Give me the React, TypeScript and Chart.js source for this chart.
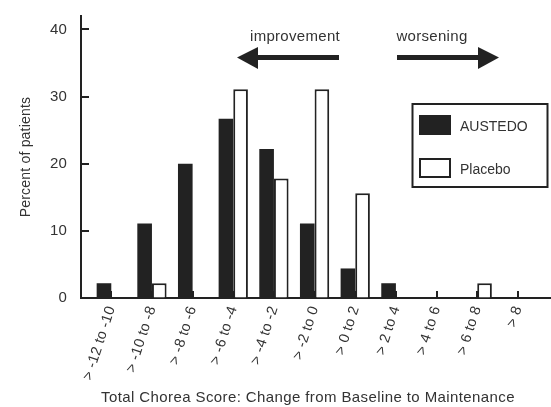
import React, { useEffect, useRef } from 'react';
import { Chart, registerables } from 'chart.js';

Chart.register(...registerables);

const CATEGORIES = [
  '> -12 to -10',
  '> -10 to -8',
  '> -8 to -6',
  '> -6 to -4',
  '> -4 to -2',
  '> -2 to 0',
  '> 0 to 2',
  '> 2 to 4',
  '> 4 to 6',
  '> 6 to 8',
  '> 8',
];
const AUSTEDO = [2.2, 11.1, 20.0, 26.7, 22.2, 11.1, 4.4, 2.2, 0, 0, 0];
const PLACEBO = [0, 2.2, 0, 31.1, 17.8, 31.1, 15.6, 0, 0, 2.2, 0];
const Y_TICKS = [0, 10, 20, 30, 40];
const SERIES_NAMES = ['AUSTEDO', 'Placebo'];

const FAMILY = "'Liberation Sans', Arial, sans-serif";
const INK = '#222222';
const TEXT = '#333333';
const SPACING = '0.2px';

const spacingPlugin = {
  id: 'spacing',
  beforeUpdate(chart: any) {
    chart.ctx.letterSpacing = SPACING;
  },
  beforeLayout(chart: any) {
    chart.ctx.letterSpacing = SPACING;
  },
  beforeDraw(chart: any) {
    chart.ctx.letterSpacing = SPACING;
  },
};

const innerTicksPlugin = {
  id: 'innerTicks',
  beforeDatasetsDraw(chart: any) {
    const { ctx, chartArea, scales } = chart;
    const x = scales.x;
    const y = scales.y;
    ctx.save();
    ctx.strokeStyle = INK;
    ctx.lineWidth = 2;
    y.ticks.forEach((_t: any, i: number) => {
      const py = Math.round(y.getPixelForTick(i));
      ctx.beginPath();
      ctx.moveTo(chartArea.left, py);
      ctx.lineTo(chartArea.left + 8, py);
      ctx.stroke();
    });
    x.ticks.forEach((_t: any, i: number) => {
      const px = Math.round(x.getPixelForTick(i));
      ctx.beginPath();
      ctx.moveTo(px, chartArea.bottom);
      ctx.lineTo(px, chartArea.bottom - 7);
      ctx.stroke();
    });
    ctx.restore();
  },
};

const decorPlugin = {
  id: 'decor',
  afterDraw(chart: any) {
    const { ctx } = chart;
    const ds = chart.data.datasets;
    ctx.save();
    ctx.fillStyle = TEXT;
    ctx.textBaseline = 'middle';
    ctx.textAlign = 'center';

    // x-axis title
    ctx.letterSpacing = '0.4px';
    ctx.font = `15px ${FAMILY}`;
    ctx.fillText('Total Chorea Score: Change from Baseline to Maintenance', 308, 398);

    // direction annotations
    ctx.letterSpacing = '0.3px';
    ctx.fillText('improvement', 295, 37);
    ctx.fillText('worsening', 432, 37);

    ctx.fillStyle = INK;
    // left arrow
    ctx.fillRect(256, 55, 83, 5);
    ctx.beginPath();
    ctx.moveTo(237, 57.5);
    ctx.lineTo(258, 47);
    ctx.lineTo(258, 69);
    ctx.closePath();
    ctx.fill();
    // right arrow
    ctx.fillRect(397, 55, 83, 5);
    ctx.beginPath();
    ctx.moveTo(499, 57.5);
    ctx.lineTo(478, 47);
    ctx.lineTo(478, 69);
    ctx.closePath();
    ctx.fill();

    // legend box
    ctx.strokeStyle = INK;
    ctx.lineWidth = 2;
    ctx.strokeRect(412.5, 104, 135, 83);
    ctx.fillStyle = ds[0].backgroundColor;
    ctx.fillRect(419, 115, 32, 20);
    ctx.fillStyle = ds[1].backgroundColor;
    ctx.fillRect(420, 159, 30, 18);
    ctx.strokeStyle = ds[1].borderColor;
    ctx.strokeRect(420, 159, 30, 18);
    ctx.fillStyle = TEXT;
    ctx.textAlign = 'left';
    ctx.letterSpacing = '0px';
    ctx.font = `14px ${FAMILY}`;
    ctx.fillText(ds[0].label, 460, 127);
    ctx.fillText(ds[1].label, 460, 170);
    ctx.restore();
  },
};

export default function App() {
  const ref = useRef<HTMLCanvasElement | null>(null);

  useEffect(() => {
    if (!ref.current) return;
    const font = { family: FAMILY, size: 15 };
    const chart = new Chart(ref.current, {
      type: 'bar',
      data: {
        datasets: [
          {
            label: SERIES_NAMES[0],
            data: AUSTEDO.map((v, i) => ({ x: i, y: v })),
            backgroundColor: INK,
            borderWidth: 0,
          },
          {
            label: SERIES_NAMES[1],
            data: PLACEBO.map((v, i) => ({ x: i, y: v })),
            backgroundColor: '#ffffff',
            borderColor: INK,
            borderWidth: 2,
          },
        ],
      } as any,
      options: {
        animation: false,
        responsive: false,
        layout: { padding: { top: 16, right: 1, bottom: 0, left: 0 } },
        categoryPercentage: 0.72,
        barPercentage: 1,
        plugins: {
          legend: { display: false },
          tooltip: { enabled: false },
        },
        scales: {
          x: {
            type: 'linear',
            min: -0.745,
            max: 10.79,
            offset: false,
            afterBuildTicks: (s: any) => {
              s.ticks = CATEGORIES.map((_c, i) => ({ value: i }));
            },
            afterFit: (s: any) => {
              s.height = 109;
              s.paddingLeft = 0;
              s.paddingRight = 0;
            },
            grid: { display: true, drawOnChartArea: false, drawTicks: false },
            border: { display: true, color: INK, width: 2 },
            ticks: {
              autoSkip: false,
              minRotation: 72,
              maxRotation: 72,
              padding: 6,
              color: TEXT,
              font: { family: FAMILY, size: 14.5 },
              callback: (v: any) => CATEGORIES[v] ?? '',
            },
          },
          y: {
            min: 0,
            max: 42,
            afterBuildTicks: (s: any) => {
              s.ticks = Y_TICKS.map((v) => ({ value: v }));
            },
            afterFit: (s: any) => {
              s.width = 81;
              s.paddingTop = 0;
              s.paddingBottom = 0;
            },
            grid: { display: true, drawOnChartArea: false, drawTicks: false },
            border: { display: true, color: INK, width: 2 },
            ticks: { padding: 14, color: TEXT, font },
            title: {
              display: true,
              text: 'Percent of patients',
              color: TEXT,
              font: { family: FAMILY, size: 14 },
              padding: { top: 18, bottom: 0 },
            },
          },
        },
      } as any,
      plugins: [spacingPlugin, innerTicksPlugin, decorPlugin],
    });
    return () => chart.destroy();
  }, []);

  return (
    <canvas
      ref={ref}
      width={551}
      height={407}
      style={{ position: 'fixed', left: 0, top: 0, width: 551, height: 407 }}
    />
  );
}
